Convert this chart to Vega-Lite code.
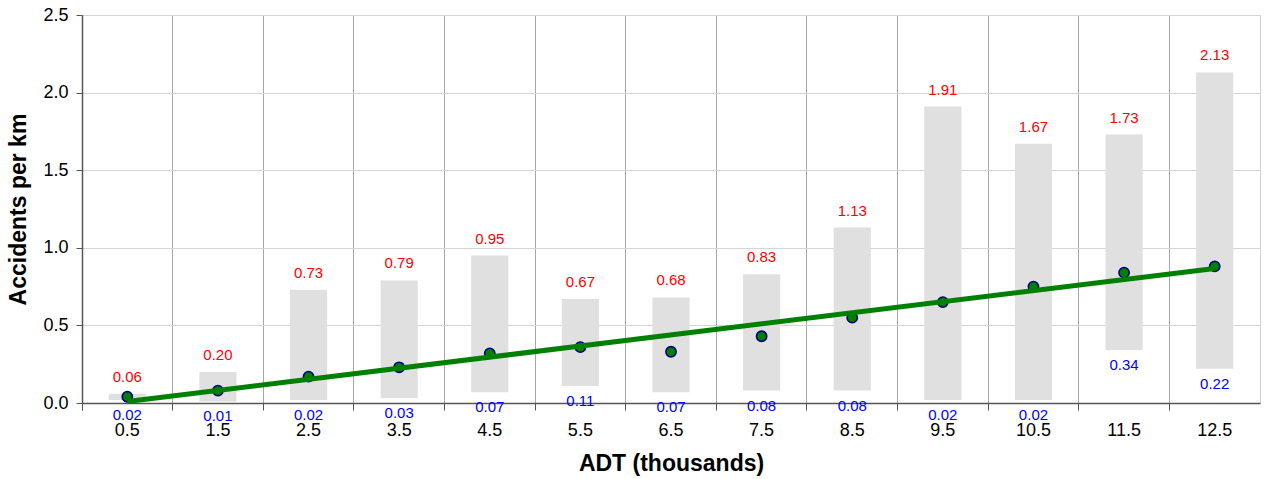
{
  "$schema": "https://vega.github.io/schema/vega-lite/v6.json",
  "width": 1178,
  "height": 388,
  "autosize": {"type": "none"},
  "padding": {"left": 82, "top": 15, "right": 5, "bottom": 76},
  "background": "white",
  "config": {
    "font": "Liberation Sans",
    "view": {"stroke": "#d0d0d0", "strokeWidth": 1}
  },
  "data": {
    "values": [
      {"adt": "0.5", "low": 0.02, "high": 0.06, "mean": 0.04, "trend": 0.01},
      {"adt": "1.5", "low": 0.01, "high": 0.20, "mean": 0.08, "trend": null},
      {"adt": "2.5", "low": 0.02, "high": 0.73, "mean": 0.17, "trend": null},
      {"adt": "3.5", "low": 0.03, "high": 0.79, "mean": 0.23, "trend": null},
      {"adt": "4.5", "low": 0.07, "high": 0.95, "mean": 0.32, "trend": null},
      {"adt": "5.5", "low": 0.11, "high": 0.67, "mean": 0.36, "trend": null},
      {"adt": "6.5", "low": 0.07, "high": 0.68, "mean": 0.33, "trend": null},
      {"adt": "7.5", "low": 0.08, "high": 0.83, "mean": 0.43, "trend": null},
      {"adt": "8.5", "low": 0.08, "high": 1.13, "mean": 0.55, "trend": null},
      {"adt": "9.5", "low": 0.02, "high": 1.91, "mean": 0.65, "trend": null},
      {"adt": "10.5", "low": 0.02, "high": 1.67, "mean": 0.75, "trend": null},
      {"adt": "11.5", "low": 0.34, "high": 1.73, "mean": 0.84, "trend": null},
      {"adt": "12.5", "low": 0.22, "high": 2.13, "mean": 0.88, "trend": 0.867}
    ]
  },
  "encoding": {
    "x": {
      "field": "adt",
      "type": "ordinal",
      "sort": null,
      "scale": {"paddingInner": 0, "paddingOuter": 0},
      "axis": {
        "title": "ADT (thousands)",
        "titleFontSize": 23,
        "titleFontWeight": "bold",
        "titleColor": "black",
        "titlePadding": 13,
        "labelAngle": 0,
        "labelFontSize": 18,
        "labelColor": "black",
        "labelPadding": 11,
        "bandPosition": 0,
        "tickExtra": true,
        "tickSize": 7,
        "tickColor": "#555555",
        "grid": true,
        "gridColor": "#a6a6a6",
        "gridWidth": 1,
        "domainColor": "#555555",
        "domainWidth": 1.5
      }
    }
  },
  "layer": [
    {
      "mark": {"type": "bar", "color": "#e0e0e0", "width": {"band": 0.41}},
      "encoding": {
        "y": {
          "field": "high",
          "type": "quantitative",
          "scale": {"domain": [0, 2.5], "nice": false},
          "axis": {
            "title": "Accidents per km",
            "titleFontSize": 23,
            "titleFontWeight": "bold",
            "titleColor": "black",
            "titlePadding": 12,
            "values": [0, 0.5, 1, 1.5, 2, 2.5],
            "format": ".1f",
            "labelFontSize": 18,
            "labelColor": "black",
            "labelPadding": 8,
            "tickSize": 6,
            "tickColor": "#555555",
            "grid": true,
            "gridColor": "#d4d4d4",
            "gridWidth": 1.2,
            "domainColor": "#555555",
            "domainWidth": 1.5
          }
        },
        "y2": {"field": "low"}
      }
    },
    {
      "mark": {"type": "point", "shape": "circle", "filled": true, "size": 105, "fill": "#008000", "stroke": "#000080", "strokeWidth": 1.6, "opacity": 1},
      "encoding": {"y": {"field": "mean", "type": "quantitative"}}
    },
    {
      "transform": [{"filter": "isValid(datum.trend)"}],
      "mark": {"type": "line", "color": "#008000", "strokeWidth": 5},
      "encoding": {"y": {"field": "trend", "type": "quantitative"}}
    },
    {
      "mark": {"type": "text", "color": "#ff0000", "fontSize": 15, "baseline": "bottom", "dy": -9},
      "encoding": {
        "y": {"field": "high", "type": "quantitative"},
        "text": {"field": "high", "type": "quantitative", "format": ".2f"}
      }
    },
    {
      "mark": {"type": "text", "color": "#0000ff", "fontSize": 15, "baseline": "top", "dy": 8},
      "encoding": {
        "y": {"field": "low", "type": "quantitative"},
        "text": {"field": "low", "type": "quantitative", "format": ".2f"}
      }
    }
  ]
}
